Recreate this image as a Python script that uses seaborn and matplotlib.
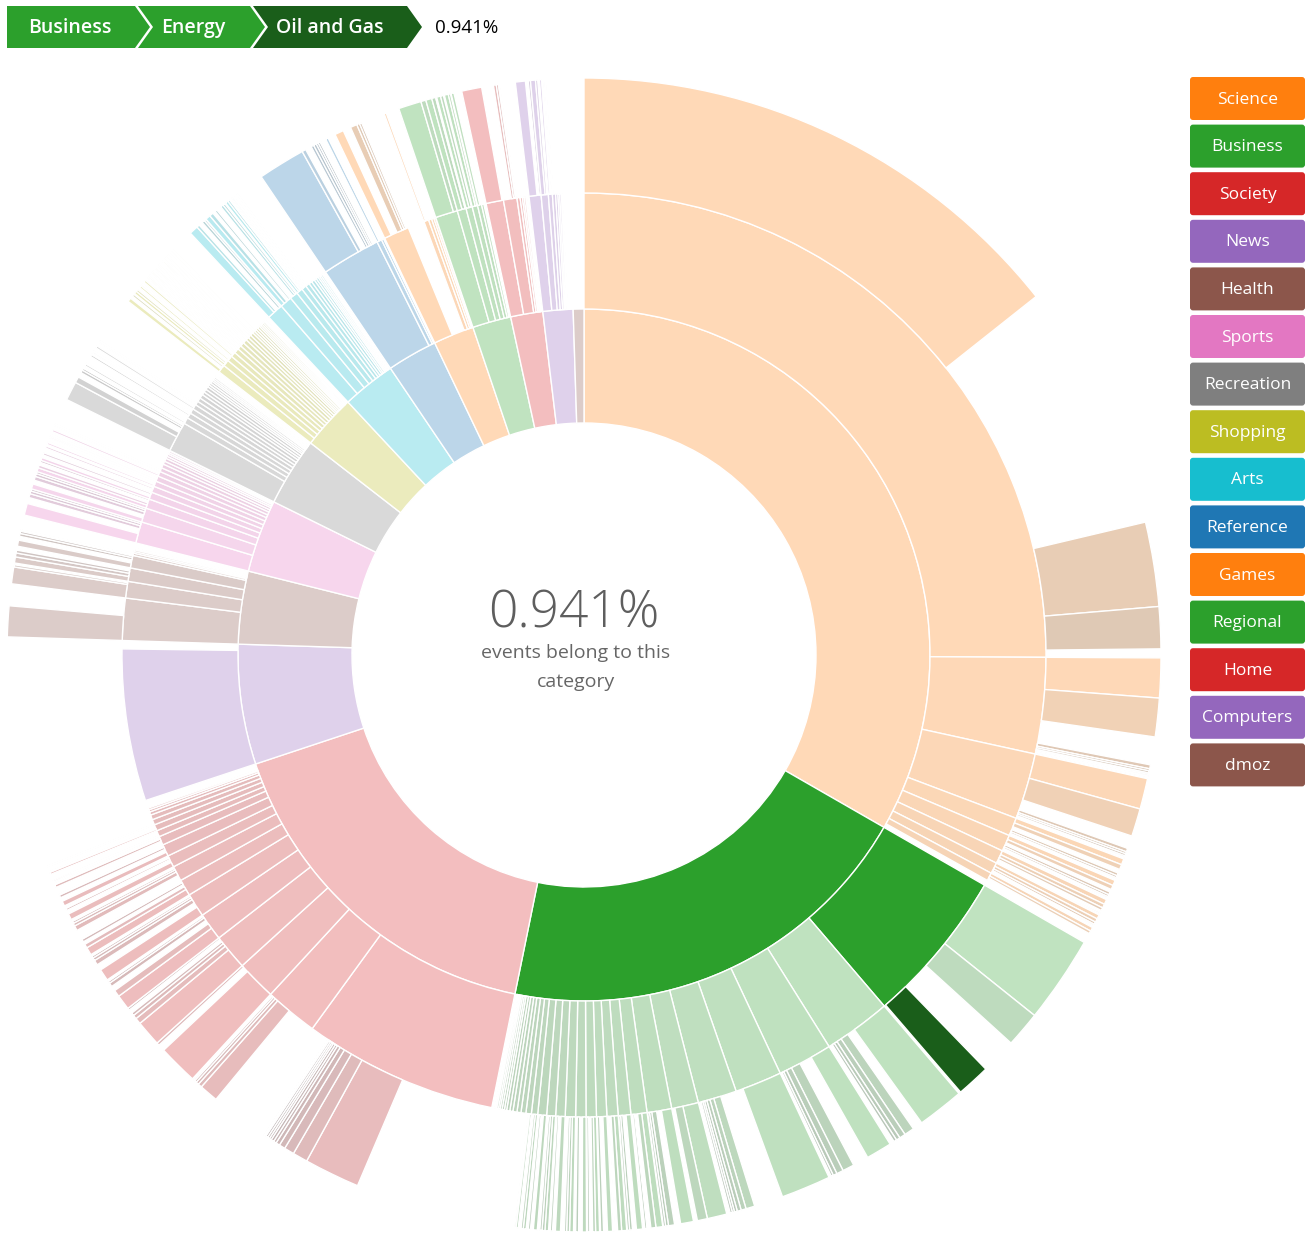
import numpy as np
import matplotlib
matplotlib.use("Agg")
import matplotlib.pyplot as plt
import seaborn as sns
from matplotlib.patches import Polygon, FancyBboxPatch

sns.set_theme(style="white")
plt.rcParams["font.family"] = ["Open Sans", "DejaVu Sans"]

# share of all events, in %
categories = ["Science", "Business", "Society", "News", "Health", "Sports",
              "Recreation", "Shopping", "Arts", "Reference", "Games",
              "Regional", "Home", "Computers", "dmoz"]
category_share = [33.3, 19.9, 16.7, 5.6, 3.4, 3.4, 3.2, 2.55, 2.5, 2.35,
                  1.9, 1.8, 1.5, 1.4, 0.5]

# second level, share of all events in %.
# a negative value = events that stop at the parent (the sunburst leaves it empty)
level2 = {
    "Science": [25.08, 3.36, 2.31, 0.64, 0.58, 0.47, 0.39, 0.28],
    "Business": [5.44, 2.36, 1.92, 1.64, 1.36, 0.94, 0.86, 0.56, 0.44, 0.39,
                 0.36, 0.36, 0.36, 0.36, 0.33, 0.31, 0.31, 0.22, 0.19, 0.17,
                 0.14, 0.14, 0.11, 0.11, 0.08, 0.08, 0.07, 0.06, 0.06, 0.04, 0.03],
    "Society": [6.81, 1.86, 1.39, 1.25, 0.97, 0.83, 0.58, 0.53, 0.42, 0.42,
                0.31, 0.22, 0.22, 0.19, 0.17, 0.11, 0.08, 0.06],
    "News": [5.31],
    "Health": [1.47, 0.58, 0.47, 0.44, 0.08, 0.06, 0.06, 0.03, 0.03],
    "Sports": [0.75, 0.5, 0.33, 0.25, 0.22, 0.19, 0.19, 0.17, 0.14, 0.14,
               0.11, 0.11, 0.08, 0.08, 0.06, 0.06],
    "Recreation": [1.06, 0.22, 0.19, 0.17, 0.17, 0.14, 0.14, 0.14, 0.11, 0.11,
                   0.11, 0.08, 0.08, 0.08, 0.06, 0.06, 0.06, 0.03, 0.03],
    "Shopping": [0.28, 0.22, 0.19, 0.17, 0.17, 0.14, 0.14, 0.14, 0.11, 0.11,
                 0.11, 0.08, 0.08, 0.08, 0.08, 0.06, 0.06, 0.06, 0.06, 0.03, 0.03],
    "Arts": [0.58, 0.42, 0.28, 0.22, 0.17, 0.14, 0.11, 0.11, 0.08, 0.08,
             0.06, 0.06, 0.06, 0.03, 0.03],
    "Reference": [2.06, 0.17, 0.08, 0.03],
    "Games": [0.89, -0.58, 0.17, 0.11, 0.08, 0.06],
    "Regional": [0.78, 0.31, 0.22, 0.19, 0.14, 0.08],
    "Home": [0.61, 0.47, 0.11, 0.08, 0.06, 0.06, 0.03],
    "Computers": [0.42, 0.25, 0.14, 0.11, 0.08, 0.06, 0.06, 0.03],
    "dmoz": [],
}

# third level, one list per second-level entry (same order)
level3 = {
    "Science": [[14.33, -6.97, 2.36, 1.17],
                [1.11, 1.08, -0.78, 0.11, 0.06, 0.06, 0.04, 0.04, 0.03],
                [0.86, 0.78, -0.36, 0.10, 0.06, 0.06, 0.04, 0.03],
                [0.17, 0.14, -0.11, 0.08, 0.06, 0.04, 0.03],
                [0.15, 0.12, -0.08, 0.08, 0.06, 0.04],
                [0.14, 0.11, 0.08, -0.06, 0.04],
                [0.12, 0.10, 0.07, 0.04],
                [0.11, 0.08]],
    "Business": [[2.44, 1.0, -1.0, 0.941],
                 [1.31, -0.28, 0.28, 0.17, 0.11, 0.08],
                 [0.72, -0.44, 0.33, 0.19, 0.11, 0.06],
                 [1.39, -0.25],
                 [-0.56, 0.25, 0.14, 0.11, 0.08, 0.06, 0.06],
                 [0.55, 0.28, -0.11],
                 [0.36, -0.17, 0.17, 0.08, 0.06],
                 [0.19, 0.14, -0.11, 0.06, 0.03],
                 [0.17, -0.11, 0.08, 0.06],
                 [0.14, 0.11, -0.08, 0.03],
                 [0.14, -0.11, 0.08],
                 [0.11, 0.08, -0.08, 0.06],
                 [0.12, -0.10, 0.08],
                 [0.11, 0.08, 0.06],
                 [0.14, -0.08, 0.06],
                 [0.10, 0.08, 0.06],
                 [0.11, -0.08, 0.06],
                 [0.08, 0.06],
                 [0.06, 0.04]],
    "Society": [[-3.22, 1.56, 0.42, 0.28, 0.17, 0.11, 0.08, 0.08, 0.06, 0.06, 0.06, 0.03, 0.03],
                [-1.0, 0.53, 0.11, 0.08, 0.06, 0.04],
                [1.12, -0.19, 0.08],
                [0.72, 0.17, 0.11, 0.08, -0.11, 0.06],
                [0.42, 0.19, -0.14, 0.11, 0.06, 0.03],
                [0.33, -0.17, 0.14, 0.08, 0.06, 0.03],
                [0.22, 0.11, -0.08, 0.08, 0.03],
                [-0.19, 0.14, 0.08, 0.06, 0.03],
                [0.17, -0.11, 0.06, 0.03],
                [0.14, -0.11, 0.08, 0.03],
                [-0.14, 0.08, 0.03],
                [0.04],
                [0.06, 0.03],
                [0.03]],
    "News": [[]],
    "Health": [[0.86, -0.61], [0.47, 0.06, -0.05], [0.17, 0.11, 0.08, -0.08],
               [0.17, -0.11, 0.08, 0.06], [0.03]],
    "Sports": [[0.33, -0.17, 0.11, 0.08, 0.06], [0.14, -0.11, 0.11, 0.08, 0.06],
               [0.11, 0.08, -0.08, 0.06], [0.08, -0.08, 0.06], [-0.11, 0.06, 0.03],
               [0.06, 0.03], [0.04, -0.04, 0.03], [0.06], [0.03, 0.03]],
    "Recreation": [[0.53, 0.17, -0.14, 0.08, 0.06, 0.03], [0.06, 0.03],
                   [-0.08, 0.06, 0.03], [0.04, 0.03], [0.06], [0.03, 0.03]],
    "Shopping": [[0.11, -0.08, 0.06], [0.08, 0.06, -0.04], [0.06, 0.04, 0.03],
                 [0.06, -0.04, 0.03], [0.04, 0.03, 0.03], [0.04, 0.03], [0.04, 0.03],
                 [0.03, 0.03], [0.04], [0.03, 0.03], [0.03], [0.03], [0.03]],
    "Arts": [[0.25, 0.08, -0.11, 0.08, 0.05], [0.14, 0.11, -0.08, 0.06],
             [-0.11, 0.08, 0.06], [0.08, 0.06, 0.03], [0.04, 0.03], [0.03]],
    "Reference": [[1.33, 0.11, -0.17, 0.08, 0.08, 0.06, 0.06, 0.03], [0.08, 0.03]],
    "Games": [[0.25, -0.22, 0.19, 0.08, 0.06], [], [0.06]],
    "Regional": [[0.64, 0.14], [0.17, 0.11, 0.03], [0.11, 0.08], [0.11, 0.06], [0.08]],
    "Home": [[0.56, -0.05], [-0.28, 0.08, 0.06, 0.03]],
    "Computers": [[0.28, -0.08, 0.06], [0.14, 0.06], [0.06, 0.03], [0.03]],
    "dmoz": [],
}

# hovered sequence: Business > Energy > Oil and Gas
path_labels = ["Business", "Energy", "Oil and Gas"]
path_index = ("Business", 0, 3)
path_share = 0.941

pal = sns.color_palette("tab10")
cat_colors = [pal[(i + 1) % 10] for i in range(len(categories))]


def darker(c, k):
    f = 0.7 ** k
    return tuple(ch * f for ch in c)


def faded(c, a=0.3):
    return tuple(a * ch + (1 - a) for ch in c)


W, H = 1306, 1235
cx, cy = 584, 655
radii = [232, 346, 462, 577]
rmax = 580
pct = 2 * np.pi / 100

fig = plt.figure(figsize=(W / 100, H / 100), dpi=100)
ax = fig.add_axes([(cx - rmax) / W, (H - cy - rmax) / H, 2 * rmax / W, 2 * rmax / H],
                  projection="polar")
ax.set_theta_zero_location("N")
ax.set_theta_direction(-1)
ax.set_ylim(0, rmax)
ax.set_axis_off()


def arc(start, value, ring, color):
    ax.bar(start * pct, radii[ring + 1] - radii[ring], width=value * pct,
           bottom=radii[ring], align="edge", color=color,
           edgecolor="white", linewidth=1.0)


t1 = 0.0
for i, (cat, share) in enumerate(zip(categories, category_share)):
    base = cat_colors[i]
    on1 = cat == path_index[0]
    arc(t1, share, 0, base if on1 else faded(base))
    t2 = t1
    kids3 = level3[cat]
    for j, v2 in enumerate(level2[cat]):
        if v2 > 0:
            c2 = darker(base, 0.05 * j)
            on2 = on1 and j == path_index[1]
            arc(t2, v2, 1, c2 if on2 else faded(c2))
            t3 = t2
            for k, v3 in enumerate(kids3[j] if j < len(kids3) else []):
                if v3 > 0:
                    c3 = darker(c2, 0.5 * k)
                    on3 = on2 and k == path_index[2]
                    arc(t3, v3, 2, c3 if on3 else faded(c3))
                t3 += abs(v3)
        t2 += abs(v2)
    t1 += share

# overlay in pixel coordinates for breadcrumb, legend and centre label
ov = fig.add_axes([0, 0, 1, 1])
ov.set_xlim(0, W)
ov.set_ylim(H, 0)
ov.set_facecolor("none")
ov.axis("off")

green = cat_colors[1]
crumb_colors = [green, green, darker(green, 1.5)]
crumb_x = [7, 138, 253]
crumb_w = [128, 112, 154]
crumb_text_x = [70, 193, 330]
tip, top, bot = 15, 6, 48
mid = (top + bot) / 2
for n, (lab, x0, w) in enumerate(zip(path_labels, crumb_x, crumb_w)):
    pts = [(x0, top), (x0 + w, top), (x0 + w + tip, mid), (x0 + w, bot), (x0, bot)]
    if n > 0:
        pts.append((x0 + tip, mid))
    ov.add_patch(Polygon(pts, closed=True, facecolor=crumb_colors[n], edgecolor="none"))
    ov.text(crumb_text_x[n], mid + 1, lab, ha="center", va="center", color="white",
            fontsize=14, fontweight="semibold")
ov.text(435, mid + 1, f"{path_share:.3f}%", ha="left", va="center", color="black",
        fontsize=13.5)

# legend
lx, ly, lw, lh, step = 1190, 77, 115, 43, 47.6
for i, cat in enumerate(categories):
    y0 = ly + i * step
    ov.add_patch(FancyBboxPatch((lx, y0), lw, lh, boxstyle="round,pad=0,rounding_size=3",
                                facecolor=cat_colors[i], edgecolor="none"))
    ov.text(lx + lw / 2, y0 + lh / 2 + 1, cat, ha="center", va="center",
            color="white", fontsize=12.5)

# centre explanation
ov.text(574, 614, f"{path_share:.3f}%", ha="center", va="center", color="#5e5e5e",
        fontsize=37, fontweight="light")
ov.text(576, 653, "events belong to this", ha="center", va="center",
        color="#666666", fontsize=14)
ov.text(576, 682, "category", ha="center", va="center", color="#666666", fontsize=14)

fig.savefig("out.png", dpi=100, facecolor="white")
